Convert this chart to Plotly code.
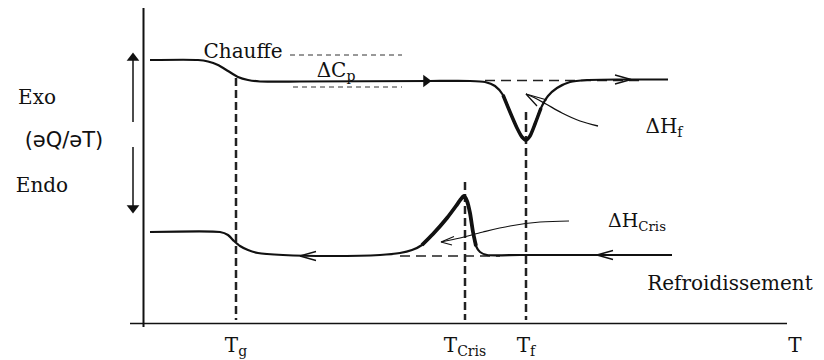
import plotly.graph_objects as go

# ---- data (x = temperature position, y = signal position, screen-like units) ----
heat_T = [150, 198, 208, 218, 228, 238, 248, 260, 300, 430, 470, 485, 495, 503, 510, 517, 522, 526,
          530, 535, 541, 548, 557, 570, 587, 620, 668]
heat_sig = [60, 60, 61.5, 65, 71, 77, 80, 81.5, 81.5, 81, 81, 82, 86, 95, 112, 128, 137, 140,
            136, 124, 108, 96, 88, 82, 80, 79.5, 79.5]

cool_T = [150, 220, 228, 234, 240, 248, 258, 283, 330, 380, 400, 412, 422, 433, 447, 456, 461, 464,
          467, 470, 473, 476, 480, 487, 520, 672]
cool_sig = [232, 232, 235, 241, 246, 250, 253, 255, 256, 255, 253, 250, 245, 234, 218, 206, 199, 196,
            201, 213, 232, 246, 252, 255, 255, 255]

T_g, T_cris, T_f = 236, 465, 526
tick_pos = [T_g, T_cris, T_f, 795]
tick_text = ["T<sub>g</sub>", "T<sub>Cris</sub>", "T<sub>f</sub>", "T"]

# text labels
label_text = ["Chauffe", "ΔC<sub>p</sub>", "Exo", "Endo", "ΔH<sub>f</sub>",
              "ΔH<sub>Cris</sub>", "Refroidissement"]
label_x = [243, 336, 37, 42, 664, 637, 730]
label_y = [53, 72, 99, 187, 128, 222, 285]
label_size = [20, 20, 20, 20, 20, 19, 20]
deriv_text = "(əQ/əT)"
deriv_pos = (64, 142)

# guide lines
vline_tops = [78, 182, 112]          # top of dashed verticals at Tg, Tcris, Tf
vline_bottom = 320
dcp_upper = (290, 402, 55)
dcp_lower = (293, 402, 87)
heat_base = (485, 645, 80.5)
cool_base = (400, 500, 256)

# pointer arrows (curved) to the enthalpy areas
dHf_x = [598, 580, 562, 546, 535, 526]
dHf_y = [126, 121, 113, 104, 98, 94]
dHc_x = [569, 540, 510, 483, 460, 441]
dHc_y = [221, 222, 226, 232, 238, 242]

# open chevrons on curves: (tip x, tip y, direction)
chevrons = [(631, 79.5, 1), (597, 255, -1), (300, 256, -1)]

ink = "#111111"
serif = "DejaVu Serif"

fig = go.Figure()

def line(xs, ys, width=2, dash=None, color=ink):
    fig.add_trace(go.Scatter(x=xs, y=ys, mode="lines", hoverinfo="skip",
                             line=dict(color=color, width=width, dash=dash)))

def head(x, y, symbol, size=10):
    fig.add_trace(go.Scatter(x=[x], y=[y], mode="markers", hoverinfo="skip",
                             marker=dict(symbol=symbol, size=size, color=ink, line=dict(width=0))))

# axes
line([143.5, 143.5], [8, 327], width=2)
line([130, 787], [323.5, 323.5], width=1.5)

# dashed verticals
for xv, top in zip([T_g, T_cris, T_f], vline_tops):
    line([xv, xv], [top, vline_bottom], width=2.5, dash="8px,4px", color="#222222")

# delta Cp guide lines
for (x0, x1, yv) in [dcp_upper, dcp_lower]:
    line([x0, x1], [yv, yv], width=1, dash="5px,4px", color="#333333")

# baselines
for (x0, x1, yv) in [heat_base, cool_base]:
    line([x0, x1], [yv, yv], width=1.5, dash="10px,6px", color="#222222")

# main curves
fig.add_trace(go.Scatter(x=heat_T, y=heat_sig, mode="lines", hoverinfo="skip",
                         line=dict(color=ink, width=2.2, shape="spline", smoothing=0.6)))
fig.add_trace(go.Scatter(x=cool_T, y=cool_sig, mode="lines", hoverinfo="skip",
                         line=dict(color=ink, width=2.2, shape="spline", smoothing=0.6)))
# thicker peaks
fig.add_trace(go.Scatter(x=heat_T[13:21], y=heat_sig[13:21], mode="lines", hoverinfo="skip",
                         line=dict(color=ink, width=3.5, shape="spline", smoothing=0.6)))
fig.add_trace(go.Scatter(x=cool_T[12:22], y=cool_sig[12:22], mode="lines", hoverinfo="skip",
                         line=dict(color=ink, width=3.8, shape="spline", smoothing=0.6)))

# chevrons
for (tx, ty, d) in chevrons:
    line([tx - d * 16, tx, tx - d * 16], [ty - 4.5, ty, ty + 4.5], width=1.3)

# pointer arrows
fig.add_trace(go.Scatter(x=dHf_x, y=dHf_y, mode="lines", hoverinfo="skip",
                         line=dict(color=ink, width=1.3, shape="spline")))
line([547, dHf_x[-1], 537], [100, dHf_y[-1], 106], width=1.3)
fig.add_trace(go.Scatter(x=dHc_x, y=dHc_y, mode="lines", hoverinfo="skip",
                         line=dict(color=ink, width=1.1, shape="spline")))
line([454, dHc_x[-1], 452], [236.5, dHc_y[-1], 245], width=1.1)

# filled arrow on heating curve
head(426, 81, "triangle-right", 11)

# Exo / Endo double arrow
line([133, 133], [60, 122], width=1.5)
line([133, 133], [147, 206], width=1.5)
head(133, 58, "triangle-up", 11)
head(133, 208, "triangle-down", 11)

# texts
fig.add_trace(go.Scatter(x=label_x, y=label_y, mode="text", text=label_text, hoverinfo="skip",
                         textposition="middle center", cliponaxis=False,
                         textfont=dict(family=serif, size=label_size, color=ink)))
fig.add_trace(go.Scatter(x=[deriv_pos[0]], y=[deriv_pos[1]], mode="text", text=[deriv_text],
                         hoverinfo="skip", textposition="middle center", cliponaxis=False,
                         textfont=dict(family="DejaVu Sans", size=21, color=ink)))
fig.add_trace(go.Scatter(x=tick_pos, y=[347] * len(tick_pos), mode="text", text=tick_text,
                         hoverinfo="skip", textposition="middle center", cliponaxis=False,
                         textfont=dict(family=serif, size=20, color=ink)))

# the page body has an 8px margin: shrink the figure by that and shift the ranges so that
# data units line up with window pixels
fig.update_layout(
    width=816, height=352, margin=dict(l=0, r=0, t=0, b=0),
    font=dict(family=serif, size=20, color=ink),
    paper_bgcolor="white", plot_bgcolor="white", showlegend=False,
    xaxis=dict(range=[8, 824], visible=False, fixedrange=True),
    yaxis=dict(range=[360, 8], visible=False, fixedrange=True),
)

fig.write_html("out.html")
